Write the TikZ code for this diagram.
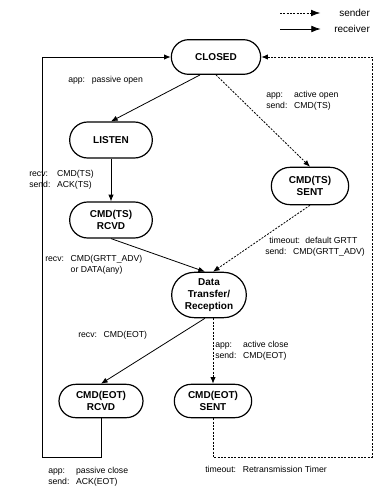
\documentclass[tikz,border=0pt]{standalone}
\usepackage{fontspec}
\setmainfont{Liberation Sans}
\usetikzlibrary{arrows.meta,shapes.misc}

\tikzset{
  state/.style={rounded rectangle,draw=black,line width=0.9pt,align=center,inner sep=1pt,
    font=\fontsize{7.5}{9}\selectfont\bfseries},
  receiver/.style={line width=0.6pt,-{Latex[length=5pt,width=4pt]}},
  sender/.style={line width=0.6pt,dash pattern=on 1.5pt off 1pt,-{Latex[length=5pt,width=4pt]}},
  edge-label/.style={anchor=west,inner sep=0pt,font=\fontsize{6.5}{8.5}\selectfont}
}
\newcommand{\rulepair}[1]{\begin{tabular}{@{}l@{\hspace{5pt}}l@{}}#1\end{tabular}}

\begin{document}
\begin{tikzpicture}[x=0.75pt,y=-0.75pt]
\useasboundingbox (0,0) rectangle (377,489);
% states
\node[state,minimum width=69pt,minimum height=26pt] (state-closed) at (216,57) {CLOSED};
\node[state,minimum width=64pt,minimum height=27pt] (state-listen) at (111,140) {LISTEN};
\node[state,minimum width=60pt,minimum height=28pt] (state-ts-sent) at (310,186) {CMD(TS)\\SENT};
\node[state,minimum width=64pt,minimum height=27pt] (state-ts-rcvd) at (111,220) {CMD(TS)\\RCVD};
\node[state,minimum width=58pt,minimum height=34pt] (state-data) at (209,295) {Data\\Transfer/\\Reception};
\node[state,minimum width=65pt,minimum height=25pt] (state-eot-rcvd) at (101,401) {CMD(EOT)\\RCVD};
\node[state,minimum width=60pt,minimum height=25pt] (state-eot-sent) at (213,401) {CMD(EOT)\\SENT};
% transitions
\draw[receiver] ([xshift=-12pt]state-closed.south) -- (state-listen.north);
\draw[sender] (state-closed.south) -- (state-ts-sent.north);
\draw[receiver] (state-listen.south) -- (state-ts-rcvd.north);
\draw[receiver] (state-ts-rcvd.south) -- ([xshift=-3pt]state-data.north);
\draw[sender] (state-ts-sent.south) -- ([xshift=3pt]state-data.north);
\draw[receiver] ([xshift=-3pt]state-data.south) -- (state-eot-rcvd.north);
\draw[sender] (state-eot-sent.north |- state-data.south) -- (state-eot-sent.north);
% return paths
\coordinate (loop-left) at (42,457);
\coordinate (loop-right) at (372,457);
\draw[receiver] (state-eot-rcvd.south) |- (loop-left) |- (state-closed.west);
\draw[sender] (state-eot-sent.south) |- (loop-right) |- (state-closed.east);
% labels
\node[edge-label] (label-passive-open) at (68,80) {\rulepair{app: & passive open}};
\node[edge-label] (label-active-open) at (266,100.5) {\rulepair{app: & active open\\ send: & CMD(TS)}};
\node[edge-label] (label-recv-ts) at (29,179.5) {\rulepair{recv: & CMD(TS)\\ send: & ACK(TS)}};
\node[edge-label] (label-recv-grtt) at (45,265) {\rulepair{recv: & CMD(GRTT\_ADV)\\ & or DATA(any)}};
\node[edge-label,align=left] (label-timeout-grtt) at (265,246.5) {\hspace{3pt}timeout:\hspace{4pt}default GRTT\\send:\hspace{5pt}CMD(GRTT\_ADV)};
\node[edge-label] (label-recv-eot) at (78,335) {\rulepair{recv: & CMD(EOT)}};
\node[edge-label] (label-active-close) at (215,350.5) {\rulepair{app: & active close\\ send: & CMD(EOT)}};
\node[edge-label] (label-passive-close) at (48,477) {\rulepair{app: & passive close\\ send: & ACK(EOT)}};
\node[edge-label] (label-timeout-rtx) at (205,470) {\rulepair{timeout: & Retransmission Timer}};
% legend
\coordinate (legend-sender-start) at (280,13);
\coordinate (legend-receiver-start) at (280,29);
\node[edge-label,font=\fontsize{7.5}{9}\selectfont] (legend-sender) at (339,13) {sender};
\node[edge-label,font=\fontsize{7.5}{9}\selectfont] (legend-receiver) at (334,29) {receiver};
\draw[sender,-{Latex[length=7pt,width=5pt]}] (legend-sender-start) -- ([xshift=-14pt]legend-sender.west);
\draw[receiver,-{Latex[length=7pt,width=5pt]}] (legend-receiver-start) -- ([xshift=-10pt]legend-receiver.west);
\end{tikzpicture}
\end{document}
